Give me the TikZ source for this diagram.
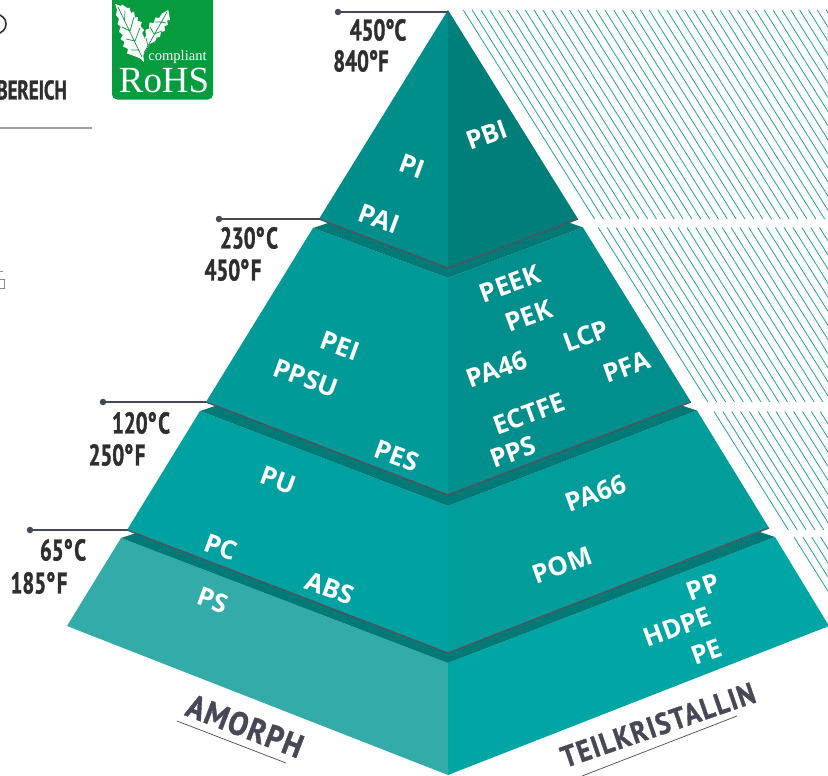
\documentclass[tikz,border=0pt]{standalone}
\usepackage{fontspec}
\setmainfont{Open Sans}
\newfontfamily\condf[FakeStretch=0.70,BoldFeatures={FakeBold=1.2}]{PT Sans}
\newfontfamily\condamo[FakeStretch=0.90,LetterSpace=4,BoldFeatures={FakeBold=1.2}]{PT Sans}
\newfontfamily\condteil[FakeStretch=0.88,LetterSpace=5,BoldFeatures={FakeBold=1.2}]{PT Sans}
\newfontfamily\logof{Liberation Serif}
\definecolor{tlA}{HTML}{008E8B}
\definecolor{trA}{HTML}{007E7A}
\definecolor{tlB}{HTML}{009A98}
\definecolor{trB}{HTML}{008F8C}
\definecolor{tlC}{HTML}{00A2A1}
\definecolor{trC}{HTML}{009D9B}
\definecolor{tlD}{HTML}{33ABA8}
\definecolor{trD}{HTML}{00A6A4}
\definecolor{tierdark}{HTML}{007A77}
\definecolor{edge}{HTML}{55505F}
\definecolor{hatch}{HTML}{23A09C}
\definecolor{ink}{HTML}{2E2E2E}
\definecolor{slate}{HTML}{464856}
\definecolor{rohs}{HTML}{049C3F}
\newcommand{\dg}{°\kern1.5pt}
\tikzset{
  mat/.style={text=white,font=\bfseries\fontsize{26}{26}\selectfont,inner sep=0pt},
  matL/.style={mat,rotate=-20},
  matR/.style={mat,rotate=20},
  temp/.style={text=ink,font=\condf\bfseries\fontsize{30}{30}\selectfont,inner sep=0pt},
  leader/.style={draw=slate,line width=1.3pt},
  ridge/.style={draw=edge,line width=1.3pt,line join=miter},
  dot/.style={circle,fill=slate,inner sep=0pt,minimum size=6.5bp},
  hatchline/.style={draw=hatch,line width=0.8pt},
  under/.style={draw=slate,line width=0.7pt},
}
\begin{document}
\begin{tikzpicture}[x=1bp,y=-1bp]
\useasboundingbox (0,0) rectangle (828,776);
\clip (0,0) rectangle (828,776);
% hatching
\foreach \n in {0,...,42} \draw[hatchline] ({463.3+\n*8.85},10) -- ({463.3+\n*8.85+0.628*209},219);
\foreach \n in {0,...,27} \draw[hatchline] ({598.3+\n*8.85},227.5) -- ({598.3+\n*8.85+0.628*174.5},402);
\foreach \n in {0,...,13} \draw[hatchline] ({714+\n*8.85},411.5) -- ({714+\n*8.85+0.628*118.5},530);
\foreach \n in {0,...,4} \draw[hatchline] ({794+\n*8.85},537) -- ({794+\n*8.85+0.628*90},627);
% bottom tier
\fill[tlD] (121,538) -- (448,663) -- (448,775) -- (67,626) -- cycle;
\fill[trD] (775,537) -- (448,663) -- (448,775) -- (829,626) -- cycle;
% third tier
\fill[tlC] (200,411) -- (448,506) -- (448,653) -- (127,530) -- cycle;
\fill[trC] (697,410.5) -- (448,506) -- (448,653) -- (769,528) -- cycle;
% second tier
\fill[tlB] (313,228) -- (448,278) -- (448,495) -- (206,402) -- cycle;
\fill[trB] (583,227.5) -- (448,278) -- (448,495) -- (691,402) -- cycle;
% top tier
\fill[tlA] (448,10) -- (448,268) -- (319,219) -- cycle;
\fill[trA] (448,10) -- (448,268) -- (578,219) -- cycle;
% shadows
\fill[tierdark] (319,219) -- (448,268) -- (569,222.5) -- (583,227.5) -- (448,278) -- (313,228) -- (328,223) -- cycle;
\fill[tierdark] (206,402) -- (448,495) -- (682,405.5) -- (697,410.5) -- (448,506) -- (200,411) -- (215,406) -- cycle;
\fill[tierdark] (127,530) -- (448,653) -- (760,532) -- (775,537) -- (448,663) -- (121,538) -- (136,533) -- cycle;
% ridges
\draw[ridge] (319,219) -- (448,268) -- (578,219);
\draw[ridge] (206,402) -- (448,495) -- (691,402);
\draw[ridge] (127,530) -- (448,653) -- (769,528);
% leaders
\node[dot] (d1) at (338,12) {};
\node[dot] (d2) at (219,219) {};
\node[dot] (d3) at (103,402) {};
\node[dot] (d4) at (30,530) {};
\coordinate (e1) at (448,12);
\coordinate (e2) at (320,219);
\coordinate (e3) at (206,402);
\coordinate (e4) at (128,530);
\draw[leader] (d1) -- (e1);
\draw[leader] (d2) -- (e2);
\draw[leader] (d3) -- (e3);
\draw[leader] (d4) -- (e4);
% temperatures
\node[temp] (t1c) at (378,30) {450°C};
\node[temp] (t1f) at (361,61) {840°F};
\node[temp] (t2c) at (249,238) {230\dg C};
\node[temp] (t2f) at (233,270) {450\dg F};
\node[temp] (t3c) at (141,423) {120\dg C};
\node[temp] (t3f) at (117,455) {250\dg F};
\node[temp] (t4c) at (63,550) {65\dg C};
\node[temp] (t4f) at (39,583) {185\dg F};
% materials
\node[matL] (pi) at (412,166) {PI};
\node[matL] (pai) at (379,219) {PAI};
\node[matR] (pbi) at (487,135) {PBI};
\node[matL] (pei) at (340,346) {PEI};
\node[matL] (ppsu) at (306,378) {PPSU};
\node[matL] (pes) at (397,456) {PES};
\node[matL] (pu) at (278,480) {PU};
\node[matR] (peek) at (510,284) {PEEK};
\node[matR] (pek) at (529,316) {PEK};
\node[matR] (lcp) at (586,336) {LCP};
\node[matR] (pa46) at (497,369) {PA46};
\node[matR] (pfa) at (627,367) {PFA};
\node[matR] (ectfe) at (529,414) {ECTFE};
\node[matR] (pps) at (513,452) {PPS};
\node[matR] (pa66) at (596,493) {PA66};
\node[matR] (pom) at (562,565) {POM};
\node[matR] (pp) at (703,587) {PP};
\node[matR] (hdpe) at (677,627) {HDPE};
\node[matR] (pe) at (707,652) {PE};
\node[matL] (pc) at (221,547) {PC};
\node[matL] (abs) at (330,588) {ABS};
\node[matL] (ps) at (213,600) {PS};
% axis labels
\node[text=slate,font=\condamo\bfseries\fontsize{33}{33}\selectfont,inner sep=0pt,rotate=-21] (amorph) at (245,726) {AMORPH};
\node[text=slate,font=\condteil\bfseries\fontsize{30}{30}\selectfont,inner sep=0pt,rotate=19] (teil) at (658,725) {TEILKRISTALLIN};
\coordinate (ua1) at (177,721);
\coordinate (ua2) at (286,763);
\coordinate (ut1) at (582,776);
\coordinate (ut2) at (737,716);
\draw[under] (ua1) -- (ua2);
\draw[under] (ut1) -- (ut2);
% cropped remains at the left edge
\draw[ink,line width=1.6pt] (-3.5,24) circle[radius=9.5];
\node[text=ink,font=\condf\bfseries\fontsize{27}{27}\selectfont,inner sep=0pt,anchor=east] (bereich) at (67,90) {BEREICH};
\fill[black!38] (0,126.9) rectangle (92,129.1);
\draw[draw=black!45,line width=0.7pt] (0,271) -- (3,271) (0,279) -- (4,279) -- (4,288.5) -- (0,288.5);
% RoHS logo
\fill[rohs,rounded corners=5bp] (112,-8) rectangle (213,99.5);
\fill[white] (115.3,4) -- (121,6) -- (122,4.5) -- (128,8.5) -- (129.5,7.5) -- (131,13) -- (134,11.5) -- (135,17.5) -- (138,17) -- (137.5,21) -- (142,22) -- (140.5,26) -- (144,30) -- (142,33) -- (144.5,38) -- (142.5,42) -- (143,53) -- (144,62) -- (140,58.3) -- (131.7,55) -- (127,53.5) -- (128,49) -- (123,46.5) -- (124.5,42) -- (120.5,39) -- (123,35) -- (119,31.7) -- (120.7,26.7) -- (117.5,24) -- (119,19) -- (116,15) -- (117,10) -- cycle;
\fill[white] (168.3,10) -- (170,20) -- (167,20.5) -- (168,25) -- (164.5,26) -- (165,31) -- (161,32) -- (160,37) -- (156.5,37.5) -- (155,42.5) -- (151,43) -- (147,48.3) -- (143.3,55) -- (141.7,43.3) -- (146,36) -- (145.5,30) -- (149,28.5) -- (149.5,22.5) -- (153.5,23) -- (155.5,17.5) -- (159,18) -- (162,13.5) -- cycle;
\draw[rohs,line width=0.7pt] (118,7) -- (142,57) (124.5,20) -- (125,11) (130,31) -- (122,27) (130,31) -- (134,17) (135,41) -- (126,39) (135,41) -- (140,28) (139,50) -- (131,50);
\draw[rohs,line width=0.7pt] (167,12) -- (144,53) (161,22) -- (155,22) (161,22) -- (166,23) (154,34) -- (150,27) (154,34) -- (162,31) (148,46) -- (146,38) (148,46) -- (156,41);
\node[text=white,font=\logof\fontsize{14.6}{14.6}\selectfont,inner sep=0pt] (compl) at (177.5,57) {compliant};
\node[text=white,font=\logof\fontsize{37}{37}\selectfont,inner sep=0pt] (rohs) at (164,80) {RoHS};
\end{tikzpicture}
\end{document}
